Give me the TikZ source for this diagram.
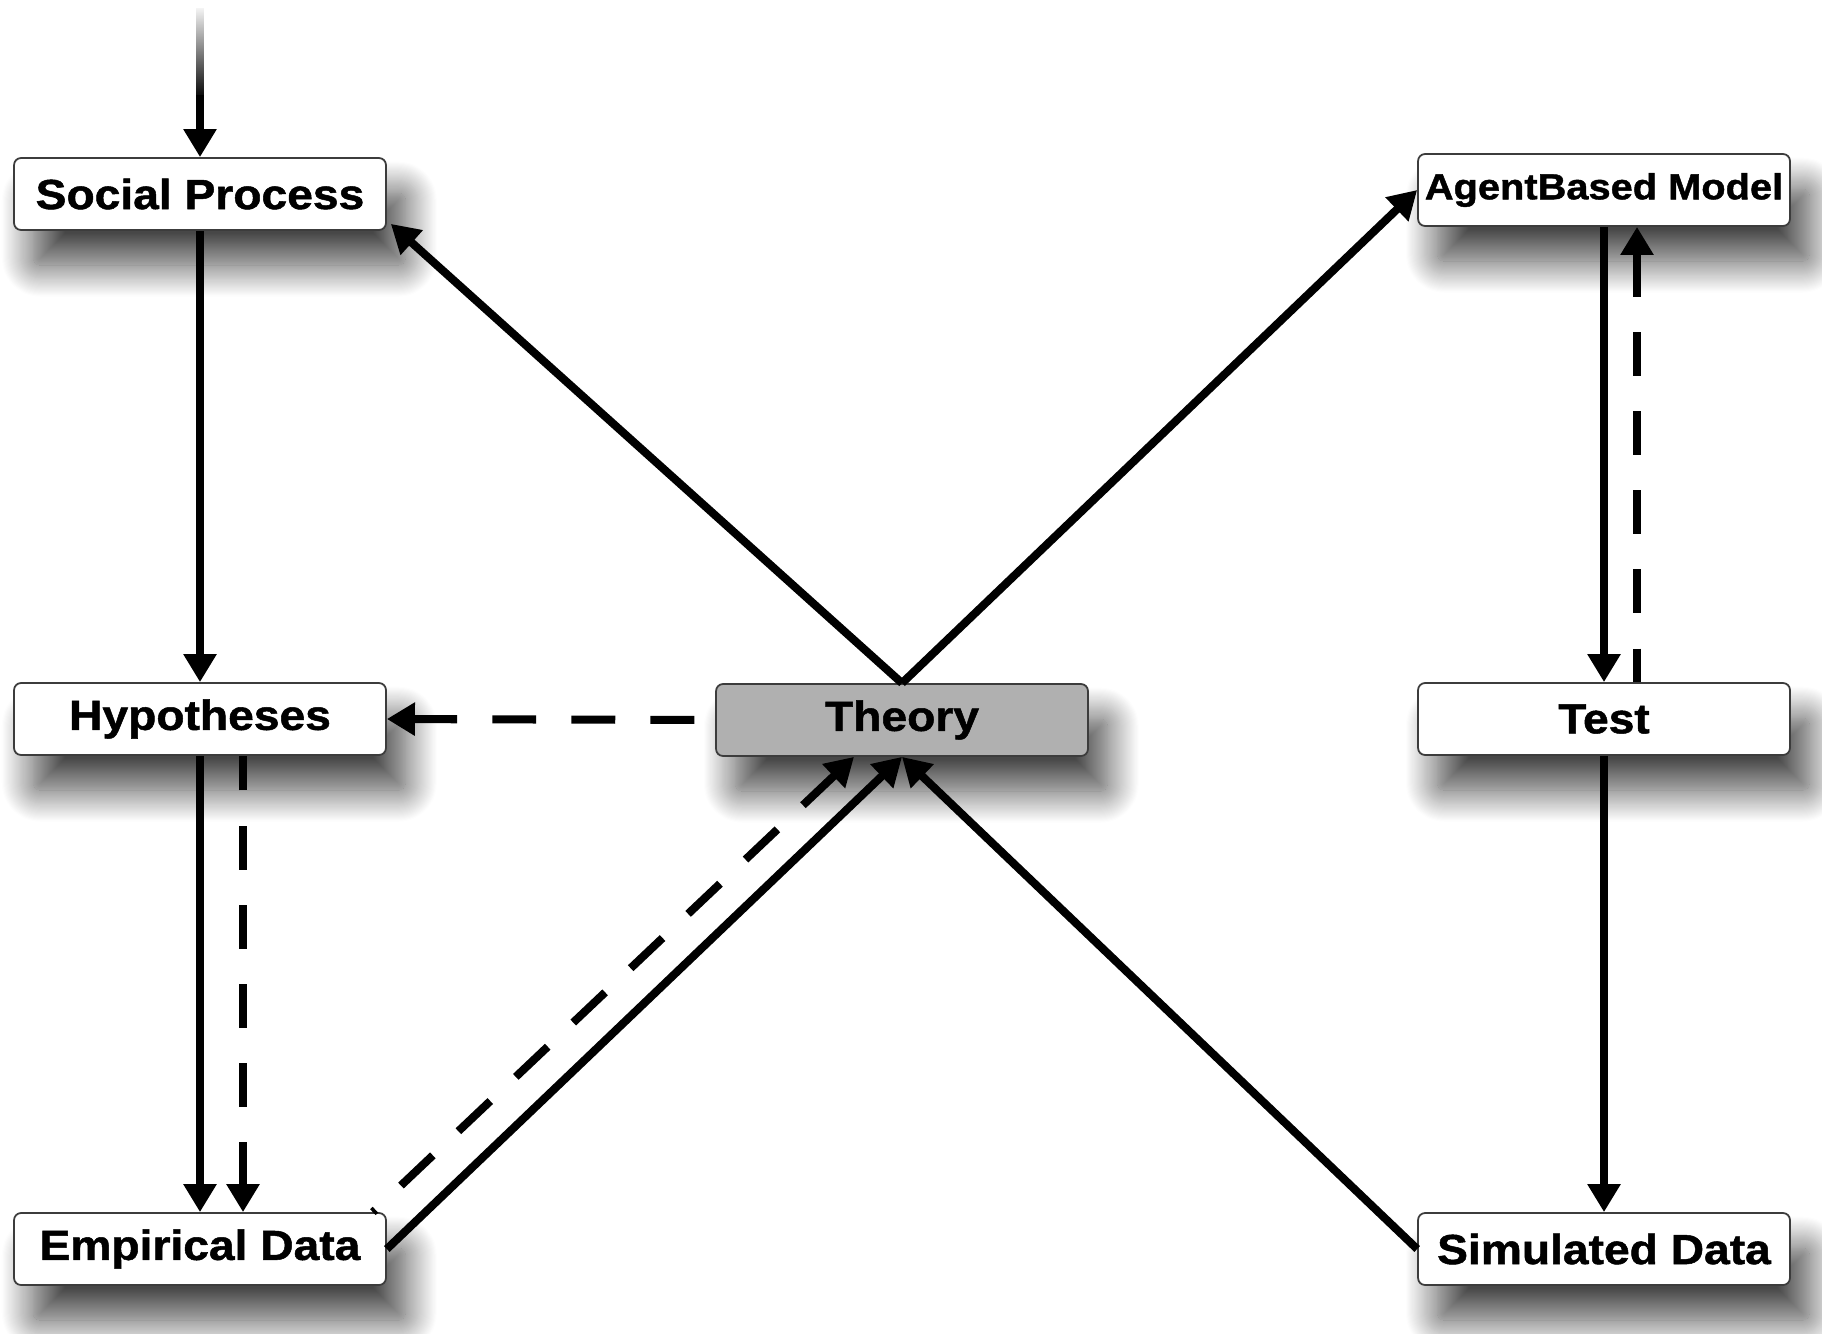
\documentclass[tikz,border=0pt]{standalone}
\usepackage{fontspec}
\setmainfont{Liberation Sans}
\newfontfamily\boxfont{Liberation Sans}[FakeStretch=1.1,FakeBold=1.2]
\usetikzlibrary{arrows.meta,shadows.blur,fadings,calc}
\definecolor{theorygray}{RGB}{176,176,176}
\definecolor{edgegray}{RGB}{60,60,60}
\tikzfading[name=fadetop, top color=transparent!100, bottom color=transparent!0]
\tikzset{
  box/.style={draw=edgegray, line width=1pt, rounded corners=4pt, fill=white,
    minimum width=7.44cm, minimum height=1.44cm, inner sep=0pt,
    font=\boxfont\bfseries\fontsize{23.9}{28}\selectfont,
    blur shadow={shadow xshift=11pt, shadow yshift=-20pt, shadow blur radius=18pt,
      shadow opacity=72, shadow blur steps=30}},
  conn/.style={line width=4.6pt, -{Triangle[length=16pt,width=18pt]}},
  dconn/.style={line width=4.6pt, {Triangle[length=16pt,width=18pt]}-, dash pattern=on 25pt off 20pt},
  plain/.style={line width=4.6pt}
}
\begin{document}
\begin{tikzpicture}[x=0.02cm, y=-0.02cm]
\useasboundingbox (0,0) rectangle (1822,1333);
\node[box] (SP) at (200,194) {Social Process};
\node[box] (H) at (200,719) {Hypotheses};
\node[box] (ED) at (200,1249) {Empirical Data};
\node[box, fill=theorygray] (T) at (902,720) {Theory};
\node[box, font=\boxfont\bfseries\fontsize{20.6}{24}\selectfont] (ABM) at (1604,190) {AgentBased Model};
\node[box] (TS) at (1604,719) {Test};
\node[box] (SD) at (1604,1249) {Simulated Data};
\coordinate (in) at (200,8);
\coordinate (inmid) at (200,95);
\draw[plain, path fading=fadetop] (in) -- (inmid);
\draw[conn] (inmid) -- (SP.north);
\draw[conn] (SP.south) -- (H.north);
\draw[conn] (T.north) -- ($(SP.south east)+(4,-7)$);
\draw[conn] (T.north) -- (ABM.west);
\draw[conn] (ABM.south) -- (TS.north);
\draw[dconn] ($(ABM.south)+(33,0)$) -- ($(TS.north)+(33,0)$);
\draw[conn] (TS.south) -- (SD.north);
\draw[conn] (SD.west) -- (T.south);
\draw[conn] (ED.east) -- (T.south);
\draw[dconn] ($(T.south)+(-48,0)$) -- ($(ED.north east)+(-14,0)$);
\draw[dconn] (H.east) -- (T.west);
\draw[conn] (H.south) -- (ED.north);
\draw[dconn] ($(ED.north)+(43,0)$) -- ($(H.south)+(43,0)$);
\end{tikzpicture}
\end{document}
